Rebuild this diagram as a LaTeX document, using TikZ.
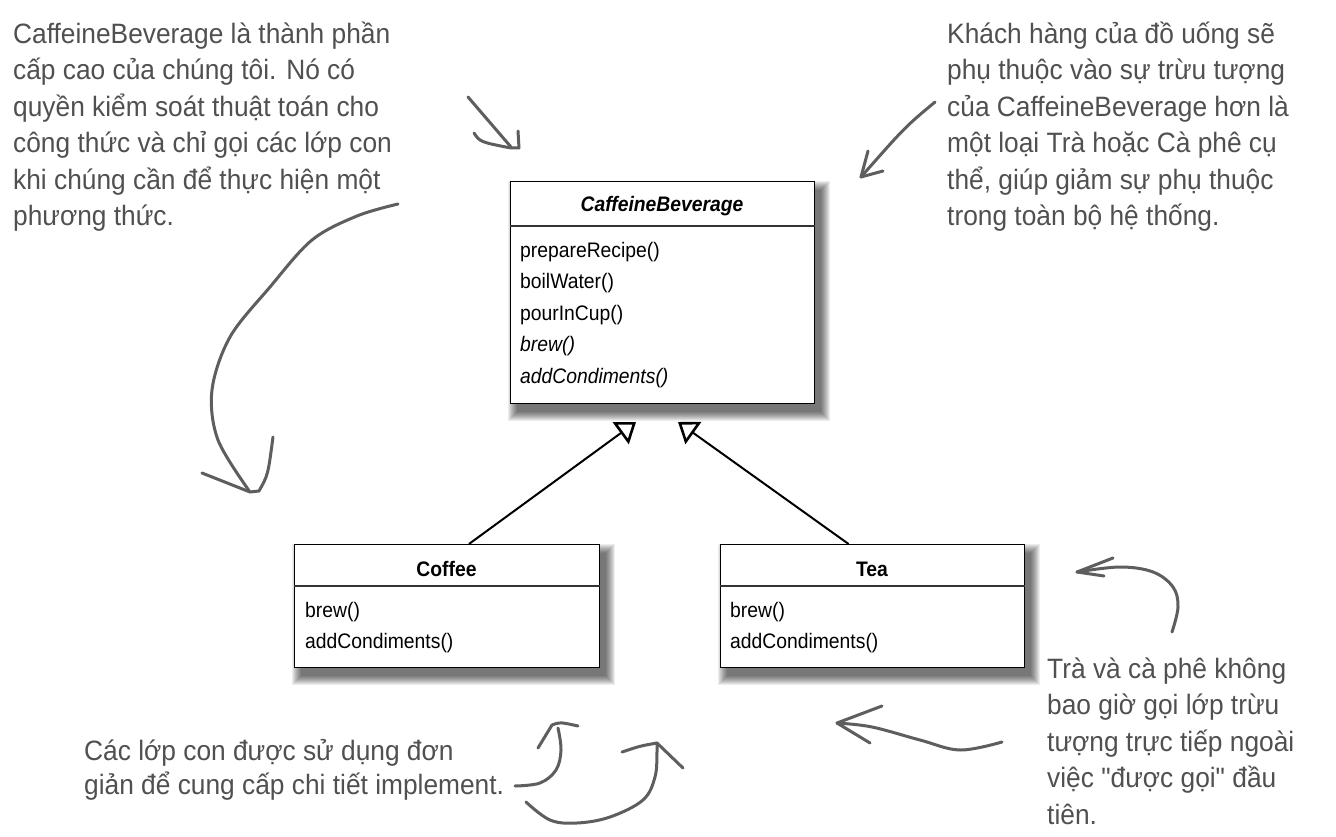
\documentclass[tikz,border=0pt]{standalone}
\usepackage{fontspec}
\setmainfont{Liberation Sans}
\newfontfamily\notefont[FakeStretch=0.94]{Liberation Sans}
\newfontfamily\boxfont[FakeStretch=0.92]{Liberation Sans}
\usetikzlibrary{arrows.meta,calc}
\definecolor{notegray}{HTML}{505050}
\definecolor{pengray}{HTML}{5E5E5E}
\newcommand\boxshadow[4]{%
  \foreach \i in {0,...,9}{%
    \fill[black, fill opacity=0.07] (#1+7-\i,#2+9-\i) rectangle (#3+7+\i,#4+9+\i);
  }%
}
\tikzset{
  note/.style={anchor=north west, inner sep=0pt, align=left, text=notegray,
    font=\notefont\fontsize{28}{36.5}\selectfont},
  pen/.style={draw=pengray, line width=3pt, line cap=round, line join=round},
  classbox/.style={draw=black, fill=white, line width=1.4pt, anchor=north west, inner sep=0pt},
  hdr/.style={anchor=base, inner sep=0pt, font=\boxfont\fontsize{21}{31.5}\selectfont\bfseries},
  methods/.style={anchor=north west, inner sep=0pt, align=left,
    font=\boxfont\fontsize{21}{31.5}\selectfont},
  divider/.style={draw=black!80, line width=1.4pt},
  inherit/.style={draw=black, line width=2pt,
    -{Triangle[length=19pt, width=27pt, fill=white, line width=2.6pt]}}
}
\begin{document}
\begin{tikzpicture}[x=1pt,y=-1pt]
\useasboundingbox[fill=white] (0,0) rectangle (1336,837);

% shadows
\boxshadow{510}{181}{814}{403}
\boxshadow{294}{544}{599}{667}
\boxshadow{720}{544}{1024}{667}

% class boxes
\node[classbox, minimum width=304pt, minimum height=222pt] (cb) at (510,181) {};
\draw[divider] ($(cb.north west)+(0,45)$) -- ($(cb.north east)+(0,45)$);
\node[hdr] (cbname) at (662,212) {\itshape CaffeineBeverage};
\node[methods] (cbm) at (520,237) {\rule{0pt}{20pt}prepareRecipe()\\boilWater()\\pourInCup()\\\textit{brew()}\\\textit{addCondiments()}};

\node[classbox, minimum width=305pt, minimum height=123pt] (coffee) at (294,544) {};
\draw[divider] ($(coffee.north west)+(0,42)$) -- ($(coffee.north east)+(0,42)$);
\node[hdr] (coffeename) at (446.5,576) {Coffee};
\node[methods] (coffeem) at (305,597) {\rule{0pt}{20pt}brew()\\addCondiments()};

\node[classbox, minimum width=304pt, minimum height=123pt] (tea) at (720,544) {};
\draw[divider] ($(tea.north west)+(0,42)$) -- ($(tea.north east)+(0,42)$);
\node[hdr] (teaname) at (872,576) {Tea};
\node[methods] (team) at (730,597) {\rule{0pt}{20pt}brew()\\addCondiments()};

% inheritance
\coordinate (tipC) at (636,422);
\coordinate (tipT) at (678,422);
\draw[inherit] ($(coffee.north west)!0.571!(coffee.north east)$) -- (tipC);
\draw[inherit] ($(tea.north west)!0.421!(tea.north east)$) -- (tipT);

% notes
\node[note] (n1) at (13,13) {\rule{0pt}{30pt}CaffeineBeverage là thành phần\\cấp cao của chúng tôi. Nó có\\quyền kiểm soát thuật toán cho\\công thức và chỉ gọi các lớp con\\khi chúng cần để thực hiện một\\phương thức.};
\node[note] (n2) at (947,13) {\rule{0pt}{30pt}Khách hàng của đồ uống sẽ\\phụ thuộc vào sự trừu tượng\\của CaffeineBeverage hơn là\\một loại Trà hoặc Cà phê cụ\\thể, giúp giảm sự phụ thuộc\\trong toàn bộ hệ thống.};
\node[note, font=\notefont\fontsize{28}{34}\selectfont] (n3) at (84,730) {\rule{0pt}{30pt}Các lớp con được sử dụng đơn\\giản để cung cấp chi tiết implement.};
\node[note] (n4) at (1047,648) {\rule{0pt}{30pt}Trà và cà phê không\\bao giờ gọi lớp trừu\\tượng trực tiếp ngoài\\việc "được gọi" đầu\\tiên.};

% hand-drawn arrows
% top-left small
\draw[pen] (468,97) -- (511,147);
\draw[pen] (474,133) .. controls (480,142) .. (511,148) -- (519,148) -- (518,131);
% top-right
\draw[pen] (935,102) .. controls (905,127) .. (861,177);
\draw[pen] (868,151) -- (861,177) -- (883,171);
% big left curve
\draw[pen] plot[smooth, tension=0.55] coordinates {(398,204) (357,216) (312,240) (270,287) (230,337) (212,390) (218,440) (250,492)};
\draw[pen] (202,473) -- (250,492) -- (259,491) .. controls (268,475) .. (273,437);
% bottom-left hook
\draw[pen] plot[smooth, tension=0.6] coordinates {(515,786) (540,783) (556,770) (561,750) (558,728)};
\draw[pen] (538,748) -- (552,725) .. controls (560,722) .. (578,726);
% bottom long curve
\draw[pen] plot[smooth, tension=0.6] coordinates {(526,802) (550,820) (577,823) (610,817) (643,800) (655,777) (657,752) (657,743)};
\draw[pen] (622,752) .. controls (640,746) .. (657,743) -- (683,768);
% tea bottom
\draw[pen] plot[smooth, tension=0.6] coordinates {(1002,742) (960,750) (920,740) (872,727) (837,723)};
\draw[pen] (882,706) -- (837,723) -- (870,743);
% tea right
\draw[pen] plot[smooth, tension=0.6] coordinates {(1172,632) (1178,607) (1173,587) (1153,572) (1120,567) (1077,572)};
\draw[pen] (1113,558) -- (1077,572) -- (1104,576);
\end{tikzpicture}
\end{document}
